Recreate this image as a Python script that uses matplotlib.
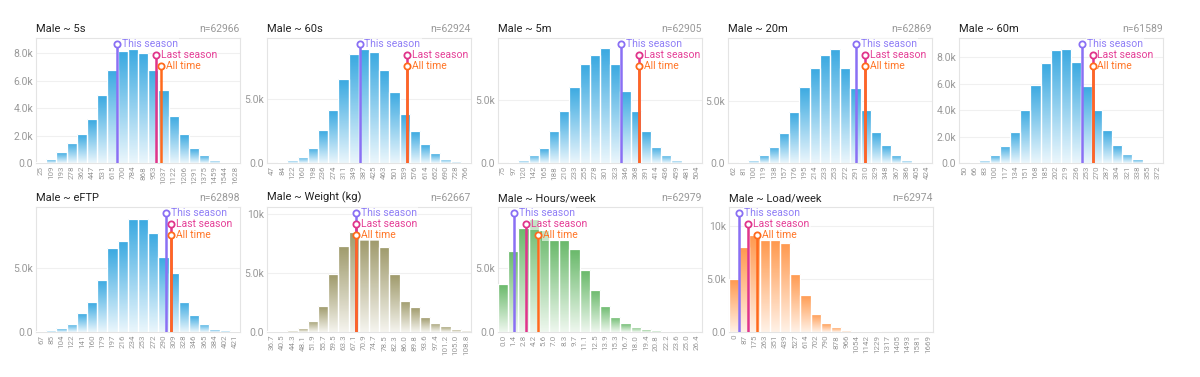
import numpy as np
import matplotlib.pyplot as plt
from matplotlib.colors import LinearSegmentedColormap

plt.rcParams['font.family'] = ['Roboto', 'DejaVu Sans']

# ---- data -------------------------------------------------------------
titles = ['Male ~ 5s', 'Male ~ 60s', 'Male ~ 5m', 'Male ~ 20m', 'Male ~ 60m',
          'Male ~ eFTP', 'Male ~ Weight (kg)', 'Male ~ Hours/week', 'Male ~ Load/week']
sample_sizes = [62966, 62924, 62905, 62869, 61589, 62898, 62667, 62979, 62974]

labels_5s = ['25', '109', '193', '278', '362', '447', '531', '615', '700', '784',
             '868', '953', '1037', '1122', '1206', '1291', '1375', '1459', '1544', '1628']
counts_5s = [50, 270, 800, 1490, 2100, 3200, 4950, 6800, 8150, 8320,
             8020, 6780, 5320, 3440, 2100, 1070, 560, 220, 100, 50]

labels_60s = ['47', '84', '122', '160', '198', '236', '274', '311', '349', '387',
              '425', '463', '501', '539', '576', '614', '652', '690', '728', '766']
counts_60s = [26, 100, 235, 500, 1200, 2570, 4110, 6545, 8480, 8900,
              8690, 7225, 5575, 3800, 2490, 1470, 760, 340, 157, 52]

labels_5m = ['75', '97', '120', '142', '165', '188', '210', '233', '255', '278',
             '301', '323', '346', '368', '391', '414', '436', '459', '481', '504']
counts_5m = [27, 106, 266, 665, 1170, 2550, 4150, 6040, 7850, 8540,
             9100, 7850, 5745, 4150, 2530, 1300, 665, 266, 106, 27]

labels_20m = ['62', '81', '100', '119', '138', '157', '176', '195', '214', '233',
              '253', '272', '291', '310', '329', '348', '367', '386', '405', '424']
counts_20m = [27, 108, 242, 618, 1317, 2446, 4059, 6129, 7634, 8683,
              9167, 7634, 5995, 4220, 2473, 1425, 618, 269, 108, 27]

labels_60m = ['50', '66', '83', '100', '117', '134', '151', '168', '185', '202',
              '219', '236', '253', '270', '287', '304', '321', '338', '355', '372']
counts_60m = [25, 100, 230, 585, 1295, 2360, 4040, 5917, 7568, 8584,
              8660, 7645, 5816, 3987, 2490, 1346, 711, 280, 100, 25]

labels_eftp = ['67', '85', '104', '122', '141', '160', '179', '197', '216', '234',
               '253', '272', '290', '309', '328', '346', '365', '384', '402', '421']
counts_eftp = [50, 130, 310, 645, 1470, 2295, 4046, 6520, 7090, 8815,
               8815, 7730, 5800, 4560, 2345, 1315, 645, 232, 130, 50]

labels_weight = ['36.7', '40.5', '44.3', '48.1', '51.9', '55.7', '59.5', '63.3', '67.1', '70.9',
                 '74.7', '78.5', '82.3', '86.0', '89.8', '93.6', '97.4', '101.2', '105.0', '108.8']
counts_weight = [57, 85, 142, 314, 943, 2200, 4886, 7314, 8457, 7886,
                 7886, 7257, 4914, 2657, 2114, 1257, 800, 486, 229, 200]

labels_hours = ['0.0', '1.4', '2.8', '4.2', '5.6', '7.0', '8.3', '9.7', '11.1', '12.5',
                '13.9', '15.3', '16.7', '18.0', '19.4', '20.8', '22.2', '23.6', '25.0', '26.4']
counts_hours = [3750, 6400, 8200, 8900, 8050, 7200, 7200, 6500, 4850, 3300,
                2050, 1200, 700, 400, 220, 120, 70, 40, 25, 15]

labels_load = ['0', '87', '175', '263', '351', '439', '527', '614', '702', '790',
               '878', '966', '1054', '1142', '1229', '1317', '1405', '1493', '1581', '1669']
counts_load = [4985, 7994, 9154, 8683, 8683, 8433, 5486, 3542, 1724, 815,
               439, 219, 125, 94, 63, 31, 31, 20, 15, 10]

# marker positions, in bin units (bin i centred on i)
this_season = [7.47, 8.58, 11.53, 12.03, 11.56, 12.22, 8.21, 1.04, 0.52]
last_season = [11.24, 13.27, 13.36, 12.94, 12.60, 12.77, 8.21, 2.28, 1.41]
all_time = [11.79, 13.27, 13.36, 12.94, 12.60, 12.77, 8.21, 3.43, 2.29]

all_labels = [labels_5s, labels_60s, labels_5m, labels_20m, labels_60m,
              labels_eftp, labels_weight, labels_hours, labels_load]
all_counts = [counts_5s, counts_60s, counts_5m, counts_20m, counts_60m,
              counts_eftp, counts_weight, counts_hours, counts_load]

# ---- style ------------------------------------------------------------
y_max = [9100, 9760, 9920, 10030, 9470, 9720, 10620, 9820, 11820]
y_ticks = [[0, 2000, 4000, 6000, 8000], [0, 5000], [0, 5000], [0, 5000],
           [0, 2000, 4000, 6000, 8000], [0, 5000], [0, 5000, 10000], [0, 5000],
           [0, 5000, 10000]]
bar_colors = [('#3aa9e1', '#eaf6fc')] * 6 + [('#9f9a6b', '#f5f4ee'),
                                              ('#69b96a', '#eef7ee'),
                                              ('#ff994e', '#fff1e6')]
marker_styles = [('This season', '#8a70f4', '#8f7ef6', 0.955),
                 ('Last season', '#e0358b', '#e53f97', 0.867),
                 ('All time', '#ff6a1c', '#ff7526', 0.779)]

W, H = 1200, 377
lefts = [36, 267, 498, 728, 959, 36, 267, 498, 729]
tops = [38] * 5 + [207] * 4


def fmt_k(v):
    if v == 0:
        return '0.0'
    if v >= 10000:
        return f'{v / 1000:.0f}k'
    return f'{v / 1000:.1f}k'


fig = plt.figure(figsize=(W / 100, H / 100), dpi=100)

for i in range(9):
    ax = fig.add_axes([lefts[i] / W, 1 - (tops[i] + 125) / H, 204 / W, 125 / H])
    counts = all_counts[i]
    x = np.arange(len(counts))
    top_c, bot_c = bar_colors[i]
    cmap = LinearSegmentedColormap.from_list('grad', [bot_c, top_c])
    bars = ax.bar(x, counts, width=1.0, color='none', edgecolor='white',
                  linewidth=0.9, zorder=3)
    grad = np.linspace(0, 1, 100).reshape(-1, 1)
    for b in bars:
        bx, bw, bh = b.get_x(), b.get_width(), b.get_height()
        im = ax.imshow(grad, cmap=cmap, origin='lower', aspect='auto',
                       extent=[bx, bx + bw, 0, bh], zorder=2)
        im.set_clip_path(b)

    ax.set_xlim(-0.5, len(counts) - 0.5)
    ax.set_ylim(0, y_max[i])
    ax.set_xticks(x)
    ax.set_xticklabels(all_labels[i], rotation=90, fontsize=5.8, color='#999999')
    ax.set_yticks(y_ticks[i])
    ax.set_yticklabels([fmt_k(v) for v in y_ticks[i]], fontsize=7.5, color='#999999')
    ax.tick_params(length=0, pad=2)
    ax.grid(axis='y', color='#f0f0f0', linewidth=0.8, zorder=0)
    ax.set_axisbelow(True)
    for s in ax.spines.values():
        s.set_color('#e4e4e4')
        s.set_linewidth(0.8)

    ax.text(0, 1.03, titles[i], transform=ax.transAxes, ha='left', va='bottom',
            fontsize=8, color='#222222')
    ax.text(1, 1.03, f'n={sample_sizes[i]}', transform=ax.transAxes, ha='right',
            va='bottom', fontsize=7.5, color='#999999')

    trans = ax.get_xaxis_transform()
    positions = [this_season[i], last_season[i], all_time[i]]
    for pos, (name, lc, tc, frac) in zip(positions, marker_styles):
        ax.plot([pos, pos], [0, frac], transform=trans, color=lc, linewidth=1.8,
                zorder=5, solid_capstyle='butt')
        ax.plot([pos], [frac], transform=trans, marker='o', markersize=4.5,
                markerfacecolor='white', markeredgecolor=lc, markeredgewidth=1.3,
                zorder=7)
        ax.annotate(name, xy=(pos, frac), xycoords=trans, xytext=(3.5, 0),
                    textcoords='offset points', va='center', ha='left', fontsize=7.5,
                    color=tc, zorder=6,
                    bbox=dict(boxstyle='square,pad=0.1', fc='white', ec='none', alpha=0.6))

fig.savefig('out.png', dpi=100)
